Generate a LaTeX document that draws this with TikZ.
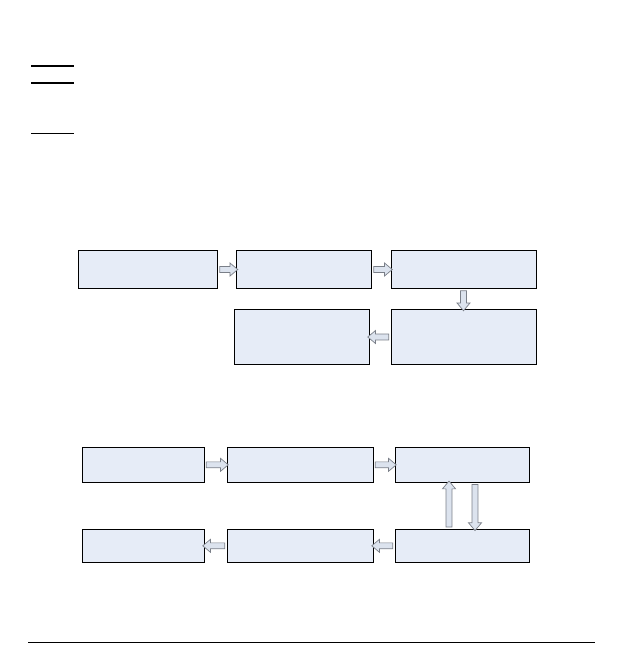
\documentclass[tikz,border=0pt]{standalone}
\usetikzlibrary{positioning, shapes.arrows, calc}

\definecolor{boxfill}{HTML}{E6ECF7}
\definecolor{arrowfill}{HTML}{DCE3EE}
\definecolor{arrowline}{HTML}{7A7F88}

\tikzset{
	box/.style={draw, fill=boxfill, line width=1pt, inner sep=0pt},
	blockarrow/.style={single arrow, draw=arrowline, fill=arrowfill, line width=0.7pt,
		inner sep=2.6pt, single arrow head extend=3.6pt, single arrow tip angle=80, outer sep=0pt},
	flow/.style={to path={let \p1=(\tikztostart), \p2=(\tikztotarget),
			\n1={veclen(\x2-\x1,\y2-\y1)}, \n2={atan2(\y2-\y1,\x2-\x1)} in
			node[blockarrow, minimum height=\n1, rotate=\n2] at ($(\p1)!0.5!(\p2)$) {}}}
}

\begin{document}
\begin{tikzpicture}[x=1pt, y=-1pt]
	\useasboundingbox (0,0) rectangle (625,663);
	% rules
	\draw[line width=2pt] (31,66) -- (74,66);
	\draw[line width=2pt] (31,83) -- (74,83);
	\draw[line width=1.3pt] (31,133.5) -- (74,133.5);
	\draw[line width=1.3pt] (28,642.3) -- (595,642.3);

	% first chart
	\node[box, minimum width=139pt, minimum height=38pt] (a1) at (148,269.5) {};
	\node[box, minimum width=135pt, minimum height=38pt, right=18pt of a1] (a2) {};
	\node[box, minimum width=145pt, minimum height=38pt, right=18.5pt of a2] (a3) {};
	\node[box, minimum width=145pt, minimum height=55pt, below=20pt of a3] (a4) {};
	\node[box, minimum width=135pt, minimum height=55pt, left=21pt of a4] (a5) {};

	\path (a1.east) to[flow] (a2.west);
	\path (a2.east) to[flow] (a3.west);
	\path (a3.south) to[flow] (a4.north);
	\path (a4.west) to[flow] (a5.east);

	% second chart
	\node[box, minimum width=122pt, minimum height=35pt] (b1) at (143,464.8) {};
	\node[box, minimum width=146pt, minimum height=35pt, right=22pt of b1] (b2) {};
	\node[box, minimum width=134pt, minimum height=35pt, right=21pt of b2] (b3) {};
	\node[box, minimum width=134pt, minimum height=33pt, below=46pt of b3] (b4) {};
	\node[box, minimum width=146pt, minimum height=33pt, left=21pt of b4] (b5) {};
	\node[box, minimum width=122pt, minimum height=33pt, left=22pt of b5] (b6) {};

	\path (b1.east) to[flow] (b2.west);
	\path (b2.east) to[flow] (b3.west);
	\path ([xshift=13pt]b3.south) to[flow] ([xshift=13pt]b4.north);
	\path ([xshift=-13pt]b4.north) to[flow] ([xshift=-13pt]b3.south);
	\path (b4.west) to[flow] (b5.east);
	\path (b5.west) to[flow] (b6.east);
\end{tikzpicture}
\end{document}
